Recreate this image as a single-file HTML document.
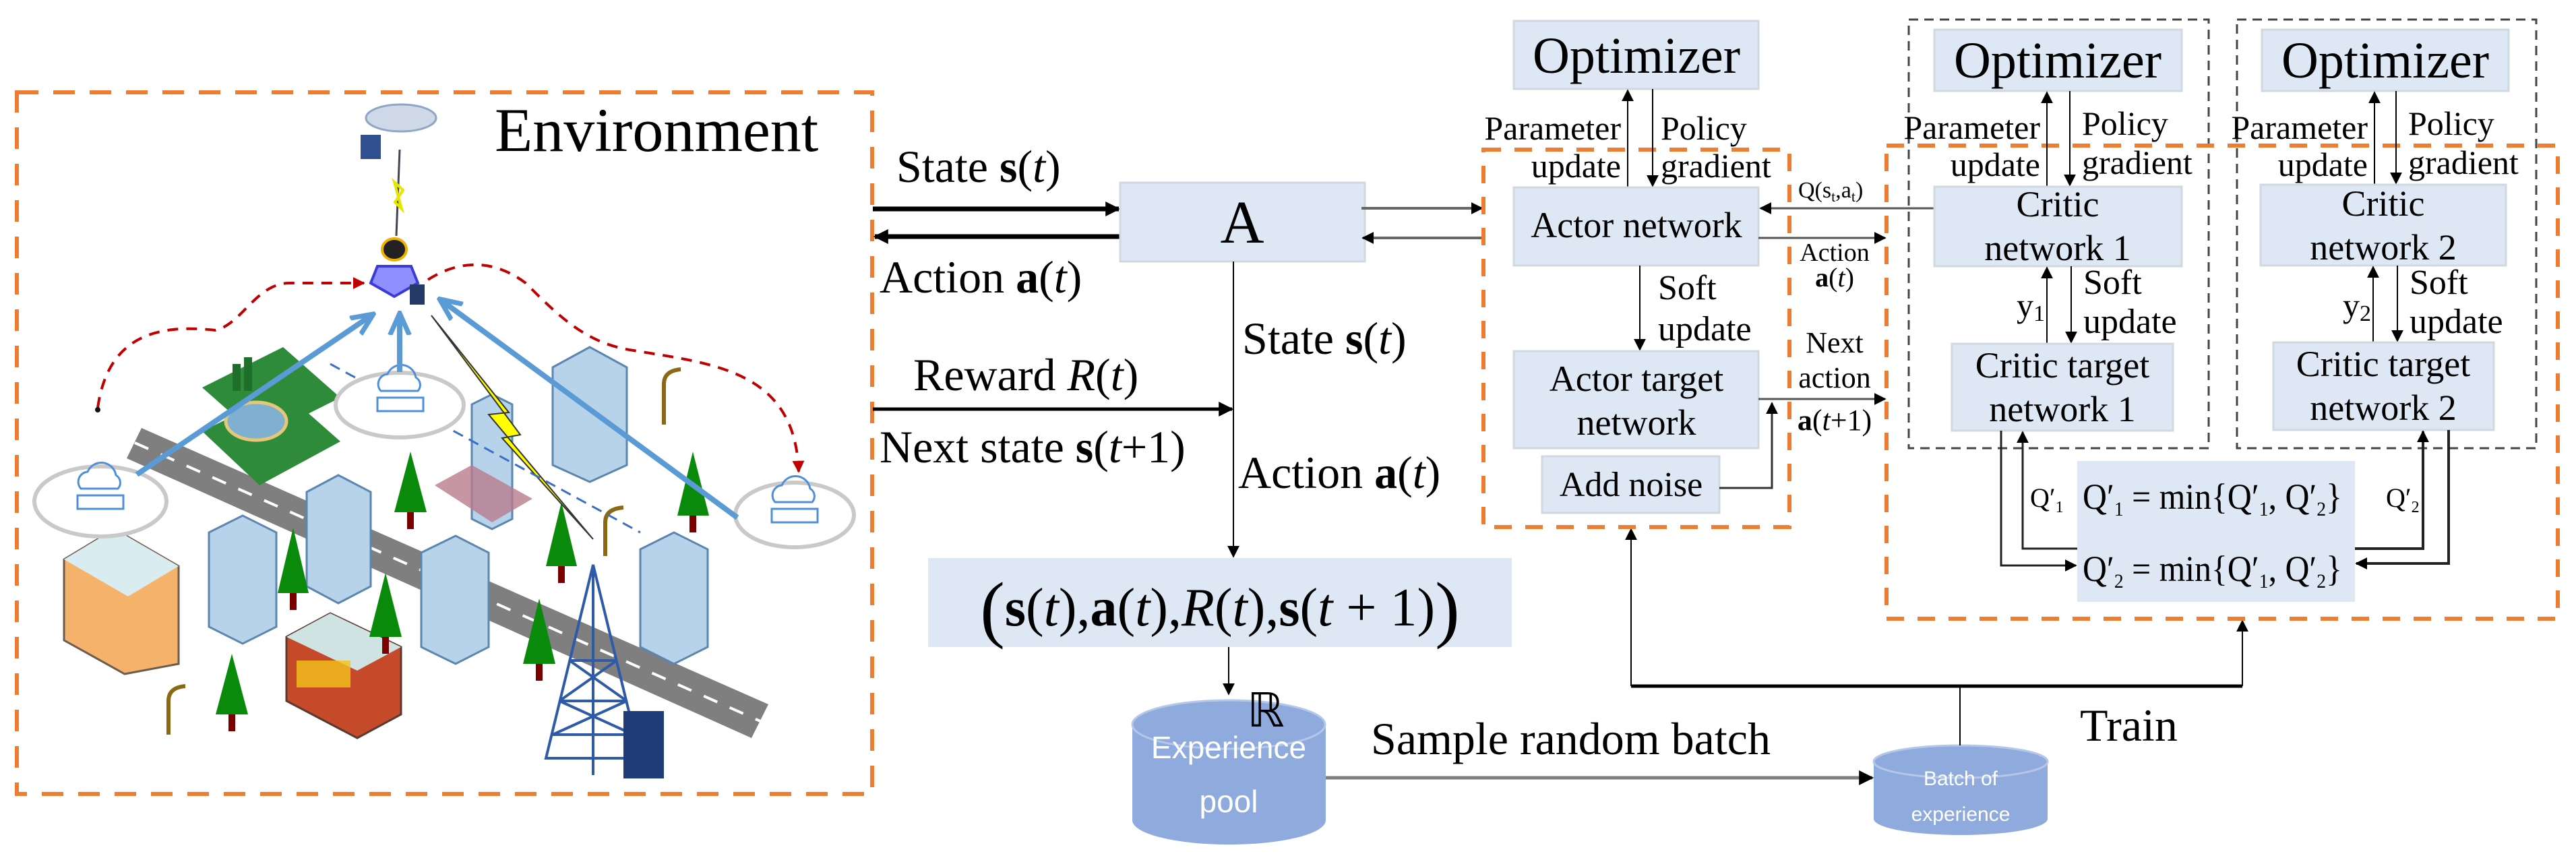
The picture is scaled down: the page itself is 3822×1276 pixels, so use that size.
<!DOCTYPE html>
<html><head><meta charset="utf-8"><style>
html,body{margin:0;padding:0;background:#fff;}
svg{display:block;}
text{font-family:"Liberation Serif",serif;fill:#000;}
</style></head><body>
<svg width="3822" height="1276" viewBox="0 0 3822 1276" xmlns="http://www.w3.org/2000/svg">
<defs>
<marker id="ahb" viewBox="0 0 10 10" refX="9" refY="5" markerWidth="22" markerHeight="22" orient="auto" markerUnits="userSpaceOnUse"><path d="M0,0 L10,5 L0,10 z" fill="#000"/></marker>
<marker id="ahs" viewBox="0 0 10 10" refX="9" refY="5" markerWidth="18" markerHeight="18" orient="auto" markerUnits="userSpaceOnUse"><path d="M0,0 L10,5 L0,10 z" fill="#000"/></marker>
<marker id="ahbl" viewBox="0 0 10 10" refX="7" refY="5" markerWidth="36" markerHeight="36" orient="auto" markerUnits="userSpaceOnUse"><path d="M0,1 L9,5 L0,9" fill="none" stroke="#5b9bd5" stroke-width="2"/></marker>
<marker id="ahr" viewBox="0 0 10 10" refX="9" refY="5" markerWidth="18" markerHeight="18" orient="auto" markerUnits="userSpaceOnUse"><path d="M0,0 L10,5 L0,10 z" fill="#c00000"/></marker>
</defs>

<!-- ================= ENVIRONMENT ================= -->
<rect x="25" y="137" width="1269" height="1041" fill="none" stroke="#ed7d31" stroke-width="6" stroke-dasharray="32 22"/>
<text x="734" y="224" font-size="92">Environment</text>
<polygon points="210,635 1140,1045 1115,1095 188,680" fill="#7f7f7f"/>
<line x1="200" y1="657" x2="1128" y2="1070" stroke="#fff" stroke-width="4" stroke-dasharray="22 20"/>
<polygon points="300,575 420,515 505,590 385,650" fill="#2e8b3a"/>
<polygon points="300,640 420,580 505,655 385,720" fill="#2e8b3a"/>
<ellipse cx="380" cy="625" rx="45" ry="28" fill="#7fb0d0" stroke="#e6c77a" stroke-width="5"/>
<rect x="345" y="540" width="12" height="40" fill="#1f6e2a"/><rect x="362" y="530" width="12" height="50" fill="#1f6e2a"/>
<ellipse cx="595" cy="175" rx="52" ry="20" fill="#cfd8e6" stroke="#8ea6c8" stroke-width="3"/>
<rect x="535" y="200" width="30" height="36" fill="#2f4f8f"/>
<line x1="593" y1="222" x2="588" y2="350" stroke="#445" stroke-width="3"/>
<polygon points="585,270 598,282 586,300 596,310" fill="none" stroke="#e6e600" stroke-width="4"/>
<ellipse cx="585" cy="370" rx="18" ry="16" fill="#222" stroke="#f0b000" stroke-width="4"/>
<polygon points="560,395 610,395 620,420 585,440 550,420" fill="#8f8fff" stroke="#3b3bd8" stroke-width="4"/>
<rect x="608" y="422" width="22" height="30" fill="#243a66"/>
<path d="M145,605 C160,500 230,480 320,490 C360,480 380,420 430,420 L540,420" fill="none" stroke="#c00000" stroke-width="4" stroke-dasharray="16 12" marker-end="url(#ahr)"/>
<path d="M635,415 C690,380 740,390 780,420 C830,470 870,510 940,520 C1060,540 1180,550 1185,700" fill="none" stroke="#c00000" stroke-width="4" stroke-dasharray="16 12" marker-end="url(#ahr)"/>
<circle cx="145" cy="608" r="4" fill="#111"/>
<g fill="#b7d3ea" stroke="#5b86b0" stroke-width="3">
<polygon points="820,545 875,515 930,545 930,690 875,715 820,690"/>
<polygon points="310,790 360,765 410,790 410,930 360,955 310,930"/>
<polygon points="455,730 502,705 550,730 550,870 502,895 455,870"/>
<polygon points="625,820 676,795 725,820 725,960 676,985 625,960"/>
<polygon points="950,815 1000,790 1050,815 1050,960 1000,985 950,960"/>
<polygon points="700,600 730,585 760,600 760,770 730,785 700,770"/>
</g>
<polygon points="645,720 700,690 790,740 730,775" fill="#b87c8c" opacity="0.8"/>
<polygon points="95,830 170,785 265,840 265,985 185,1000 95,950" fill="#f4b26a" stroke="#6b5c50" stroke-width="3"/>
<polygon points="95,830 170,785 265,840 190,885" fill="#d9ecef"/>
<polygon points="425,945 490,910 595,960 595,1060 530,1095 425,1040" fill="#c44a2a" stroke="#5a3a30" stroke-width="3"/>
<polygon points="425,945 490,910 595,960 530,995" fill="#cfe3e3"/>
<rect x="440" y="980" width="80" height="40" fill="#f2c21b" opacity="0.8"/>
<g fill="#0a8a0a">
<polygon points="609,670 585,760 633,760"/><polygon points="435,783 412,880 458,880"/><polygon points="572,850 548,945 596,945"/>
<polygon points="344,970 320,1060 368,1060"/><polygon points="800,888 776,985 824,985"/><polygon points="833,745 810,840 856,840"/><polygon points="1028,670 1005,765 1052,765"/>
</g>
<g fill="#7a0000">
<rect x="604" y="760" width="10" height="25"/><rect x="430" y="880" width="10" height="25"/><rect x="567" y="945" width="10" height="25"/>
<rect x="339" y="1060" width="10" height="25"/><rect x="795" y="985" width="10" height="25"/><rect x="828" y="840" width="10" height="25"/><rect x="1023" y="765" width="10" height="25"/>
</g>
<g fill="none" stroke="#8b6914" stroke-width="6">
<path d="M985,630 L985,570 Q985,550 1010,548"/><path d="M898,825 L898,775 Q898,755 925,753"/><path d="M250,1090 L250,1040 Q250,1020 275,1018"/>
</g>
<g stroke="#2f5aa8" stroke-width="4" fill="none">
<polygon points="880,838 810,1125 950,1125"/>
<line x1="880" y1="838" x2="880" y2="1150"/>
<path d="M845,980 L915,980 M830,1040 L930,1040 M820,1090 L940,1090 M845,980 L930,1040 M915,980 L830,1040 M830,1040 L940,1090 M930,1040 L820,1090"/>
</g>
<rect x="925" y="1055" width="60" height="100" fill="#1f3b78"/>
<polygon points="640,468 755,612 725,615 880,800 745,650 772,645" fill="#ffff00" stroke="#333" stroke-width="2"/>
<line x1="490" y1="540" x2="950" y2="790" stroke="#3a6fc8" stroke-width="3" stroke-dasharray="16 10"/>
<g fill="#fff" stroke="#c9c9c9" stroke-width="6">
<ellipse cx="149" cy="744" rx="98" ry="52"/><ellipse cx="593" cy="601" rx="95" ry="48"/><ellipse cx="1179" cy="764" rx="88" ry="48"/>
</g>
<g fill="none" stroke="#4f8fd8" stroke-width="3">
<path d="M120,725 a15,15 0 0,1 10,-25 a22,22 0 0,1 42,5 a13,13 0 0,1 3,20 z"/><rect x="115" y="735" width="68" height="20"/>
<path d="M565,580 a15,15 0 0,1 10,-25 a22,22 0 0,1 42,5 a13,13 0 0,1 3,20 z"/><rect x="560" y="590" width="68" height="20"/>
<path d="M1150,745 a15,15 0 0,1 10,-25 a22,22 0 0,1 42,5 a13,13 0 0,1 3,20 z"/><rect x="1145" y="755" width="68" height="20"/>
</g>
<g stroke="#5b9bd5" stroke-width="8" fill="none" marker-end="url(#ahbl)">
<line x1="203" y1="704" x2="548" y2="470"/>
<line x1="593" y1="552" x2="593" y2="472"/>
<line x1="1094" y1="768" x2="658" y2="448"/>
</g>

<!-- ================= MIDDLE ================= -->
<line x1="1295" y1="310" x2="1660" y2="310" stroke="#000" stroke-width="7" marker-end="url(#ahb)"/>
<line x1="1662" y1="351" x2="1298" y2="351" stroke="#000" stroke-width="7" marker-end="url(#ahb)"/>
<text x="1330" y="270" font-size="68">State <tspan font-weight="bold">s</tspan>(<tspan font-style="italic">t</tspan>)</text>
<text x="1305" y="434" font-size="68">Action <tspan font-weight="bold">a</tspan>(<tspan font-style="italic">t</tspan>)</text>

<rect x="1662" y="271" width="363" height="117" fill="#dde8f4" stroke="#d0d8e0" stroke-width="3"/>
<text x="1843" y="360" font-size="90" text-anchor="middle">A</text>

<line x1="2020" y1="309" x2="2199" y2="309" stroke="#666" stroke-width="4" marker-end="url(#ahs)"/>
<line x1="2201" y1="353" x2="2022" y2="353" stroke="#666" stroke-width="4" marker-end="url(#ahs)"/>

<line x1="1830" y1="388" x2="1830" y2="826" stroke="#000" stroke-width="2" marker-end="url(#ahs)"/>
<line x1="1295" y1="607" x2="1828" y2="607" stroke="#000" stroke-width="5" marker-end="url(#ahb)"/>
<text x="1355" y="579" font-size="68">Reward <tspan font-style="italic">R</tspan>(<tspan font-style="italic">t</tspan>)</text>
<text x="1305" y="686" font-size="68">Next state <tspan font-weight="bold">s</tspan>(<tspan font-style="italic">t</tspan>+1)</text>
<text x="1843" y="525" font-size="68">State <tspan font-weight="bold">s</tspan>(<tspan font-style="italic">t</tspan>)</text>
<text x="1837" y="724" font-size="68">Action <tspan font-weight="bold">a</tspan>(<tspan font-style="italic">t</tspan>)</text>

<rect x="1377" y="828" width="866" height="132" fill="#dde8f4"/>
<text x="1810" y="928" font-size="80" text-anchor="middle"><tspan font-size="110" dy="12">(</tspan><tspan dy="-12" font-weight="bold">s</tspan>(<tspan font-style="italic">t</tspan>),<tspan font-weight="bold">a</tspan>(<tspan font-style="italic">t</tspan>),<tspan font-style="italic">R</tspan>(<tspan font-style="italic">t</tspan>),<tspan font-weight="bold">s</tspan>(<tspan font-style="italic">t</tspan> + 1)<tspan font-size="110" dy="12">)</tspan></text>
<line x1="1823" y1="960" x2="1823" y2="1030" stroke="#000" stroke-width="2" marker-end="url(#ahs)"/>

<path d="M1680,1075 L1680,1217 A143,36 0 0,0 1967,1217 L1967,1075 A143,36 0 0,0 1680,1075 z" fill="#8faadc"/>
<ellipse cx="1823" cy="1075" rx="143" ry="36" fill="none" stroke="#b5c7e8" stroke-width="3"/>
<text x="1878" y="1078" font-size="70" text-anchor="middle" font-family="DejaVu Serif">ℝ</text>
<text x="1823" y="1125" font-size="46" text-anchor="middle" style="fill:#fff;font-family:'Liberation Sans',sans-serif">Experience</text>
<text x="1823" y="1205" font-size="46" text-anchor="middle" style="fill:#fff;font-family:'Liberation Sans',sans-serif">pool</text>

<line x1="1967" y1="1154" x2="2778" y2="1154" stroke="#7f7f7f" stroke-width="5" marker-end="url(#ahb)"/>
<text x="2034" y="1119" font-size="68">Sample random batch</text>

<path d="M2780,1130 L2780,1215 A129,24 0 0,0 3038,1215 L3038,1130 A129,24 0 0,0 2780,1130 z" fill="#8faadc"/>
<ellipse cx="2909" cy="1130" rx="129" ry="24" fill="none" stroke="#b5c7e8" stroke-width="3"/>
<text x="2909" y="1165" font-size="30" text-anchor="middle" style="fill:#fff;font-family:'Liberation Sans',sans-serif">Batch of</text>
<text x="2909" y="1218" font-size="30" text-anchor="middle" style="fill:#fff;font-family:'Liberation Sans',sans-serif">experience</text>

<line x1="2908" y1="1106" x2="2908" y2="1018" stroke="#000" stroke-width="2"/>
<line x1="2420" y1="1018" x2="3327" y2="1018" stroke="#000" stroke-width="5"/>
<line x1="2420" y1="1018" x2="2420" y2="785" stroke="#000" stroke-width="2" marker-end="url(#ahs)"/>
<line x1="3327" y1="1018" x2="3327" y2="921" stroke="#000" stroke-width="2" marker-end="url(#ahs)"/>
<text x="3086" y="1099" font-size="68">Train</text>

<!-- ================= ACTOR ================= -->
<rect x="2201" y="222" width="454" height="560" fill="none" stroke="#ed7d31" stroke-width="6" stroke-dasharray="26 20"/>
<rect x="2246" y="31" width="363" height="101" fill="#dde8f4" stroke="#d0d8e0" stroke-width="3"/>
<text x="2428" y="108" font-size="76" text-anchor="middle">Optimizer</text>
<line x1="2415" y1="278" x2="2415" y2="134" stroke="#000" stroke-width="2" marker-end="url(#ahs)"/>
<line x1="2452" y1="132" x2="2452" y2="276" stroke="#000" stroke-width="2" marker-end="url(#ahs)"/>
<text x="2405" y="207" font-size="50" text-anchor="end">Parameter</text>
<text x="2405" y="263" font-size="50" text-anchor="end">update</text>
<text x="2464" y="207" font-size="50">Policy</text>
<text x="2464" y="263" font-size="50">gradient</text>

<rect x="2246" y="278" width="363" height="116" fill="#dde8f4" stroke="#d0d8e0" stroke-width="3"/>
<text x="2428" y="352" font-size="54" text-anchor="middle">Actor network</text>
<line x1="2433" y1="394" x2="2433" y2="519" stroke="#000" stroke-width="2" marker-end="url(#ahs)"/>
<text x="2460" y="444" font-size="52">Soft</text>
<text x="2460" y="505" font-size="52">update</text>

<rect x="2246" y="521" width="363" height="144" fill="#dde8f4" stroke="#d0d8e0" stroke-width="3"/>
<text x="2428" y="580" font-size="54" text-anchor="middle">Actor target</text>
<text x="2428" y="645" font-size="54" text-anchor="middle">network</text>
<rect x="2288" y="677" width="263" height="84" fill="#dde8f4" stroke="#d0d8e0" stroke-width="3"/>
<text x="2420" y="736" font-size="52" text-anchor="middle">Add noise</text>
<polyline points="2551,724 2629,724 2629,598" fill="none" stroke="#333" stroke-width="3" marker-end="url(#ahs)"/>

<line x1="2870" y1="309" x2="2612" y2="309" stroke="#555" stroke-width="3" marker-end="url(#ahs)"/>
<text x="2668" y="293" font-size="34">Q(s<tspan font-size="22" dy="6">t</tspan><tspan dy="-6">,a</tspan><tspan font-size="22" dy="6">t</tspan><tspan dy="-6">)</tspan></text>
<line x1="2609" y1="353" x2="2797" y2="353" stroke="#555" stroke-width="3" marker-end="url(#ahs)"/>
<text x="2722" y="387" font-size="38" text-anchor="middle" font-family="Liberation Sans">Action</text>
<text x="2722" y="425" font-size="40" text-anchor="middle"><tspan font-weight="bold">a</tspan>(<tspan font-style="italic">t</tspan>)</text>
<line x1="2609" y1="592" x2="2797" y2="592" stroke="#555" stroke-width="3" marker-end="url(#ahs)"/>
<text x="2722" y="523" font-size="44" text-anchor="middle">Next</text>
<text x="2722" y="575" font-size="44" text-anchor="middle">action</text>
<text x="2722" y="638" font-size="44" text-anchor="middle"><tspan font-weight="bold">a</tspan>(<tspan font-style="italic">t</tspan>+1)</text>

<!-- ================= CRITICS ================= -->
<rect x="2832" y="29" width="445" height="636" fill="none" stroke="#444" stroke-width="3" stroke-dasharray="14 9"/>
<rect x="3319" y="29" width="444" height="636" fill="none" stroke="#444" stroke-width="3" stroke-dasharray="14 9"/>
<rect x="2799" y="216" width="996" height="702" fill="none" stroke="#ed7d31" stroke-width="6" stroke-dasharray="26 20"/>

<rect x="2870" y="44" width="367" height="91" fill="#dde8f4" stroke="#d0d8e0" stroke-width="3"/>
<text x="3053" y="115" font-size="76" text-anchor="middle">Optimizer</text>
<rect x="3356" y="44" width="366" height="91" fill="#dde8f4" stroke="#d0d8e0" stroke-width="3"/>
<text x="3539" y="115" font-size="76" text-anchor="middle">Optimizer</text>

<line x1="3037" y1="277" x2="3037" y2="137" stroke="#000" stroke-width="2" marker-end="url(#ahs)"/>
<line x1="3071" y1="135" x2="3071" y2="275" stroke="#000" stroke-width="2" marker-end="url(#ahs)"/>
<line x1="3523" y1="274" x2="3523" y2="137" stroke="#000" stroke-width="2" marker-end="url(#ahs)"/>
<line x1="3555" y1="135" x2="3555" y2="272" stroke="#000" stroke-width="2" marker-end="url(#ahs)"/>
<text x="3027" y="206" font-size="50" text-anchor="end">Parameter</text>
<text x="3027" y="261" font-size="50" text-anchor="end">update</text>
<text x="3089" y="200" font-size="50">Policy</text>
<text x="3089" y="258" font-size="50">gradient</text>
<text x="3513" y="206" font-size="50" text-anchor="end">Parameter</text>
<text x="3513" y="261" font-size="50" text-anchor="end">update</text>
<text x="3573" y="200" font-size="50">Policy</text>
<text x="3573" y="258" font-size="50">gradient</text>

<rect x="2870" y="277" width="367" height="118" fill="#dde8f4" stroke="#d0d8e0" stroke-width="3"/>
<text x="3053" y="321" font-size="54" text-anchor="middle">Critic</text>
<text x="3053" y="386" font-size="54" text-anchor="middle">network 1</text>
<rect x="3354" y="274" width="364" height="120" fill="#dde8f4" stroke="#d0d8e0" stroke-width="3"/>
<text x="3536" y="320" font-size="54" text-anchor="middle">Critic</text>
<text x="3536" y="385" font-size="54" text-anchor="middle">network 2</text>

<line x1="3037" y1="510" x2="3037" y2="397" stroke="#000" stroke-width="2" marker-end="url(#ahs)"/>
<line x1="3073" y1="395" x2="3073" y2="508" stroke="#000" stroke-width="2" marker-end="url(#ahs)"/>
<line x1="3521" y1="508" x2="3521" y2="396" stroke="#000" stroke-width="2" marker-end="url(#ahs)"/>
<line x1="3557" y1="394" x2="3557" y2="506" stroke="#000" stroke-width="2" marker-end="url(#ahs)"/>
<text x="2992" y="470" font-size="50">y<tspan font-size="34" dy="6">1</tspan></text>
<text x="3091" y="436" font-size="52">Soft</text>
<text x="3091" y="494" font-size="52">update</text>
<text x="3476" y="470" font-size="50">y<tspan font-size="34" dy="6">2</tspan></text>
<text x="3575" y="436" font-size="52">Soft</text>
<text x="3575" y="494" font-size="52">update</text>

<rect x="2896" y="510" width="328" height="129" fill="#dde8f4" stroke="#d0d8e0" stroke-width="3"/>
<text x="3060" y="560" font-size="54" text-anchor="middle">Critic target</text>
<text x="3060" y="625" font-size="54" text-anchor="middle">network 1</text>
<rect x="3373" y="508" width="327" height="130" fill="#dde8f4" stroke="#d0d8e0" stroke-width="3"/>
<text x="3536" y="558" font-size="54" text-anchor="middle">Critic target</text>
<text x="3536" y="623" font-size="54" text-anchor="middle">network 2</text>

<rect x="3082" y="684" width="412" height="209" fill="#dde8f4"/>
<text x="3090" y="755" font-size="54" textLength="385" lengthAdjust="spacingAndGlyphs">Q′<tspan font-size="30" dy="10">1</tspan><tspan dy="-10"> = min{Q′</tspan><tspan font-size="30" dy="10">1</tspan><tspan dy="-10">, Q′</tspan><tspan font-size="30" dy="10">2</tspan><tspan dy="-10">}</tspan></text>
<text x="3090" y="862" font-size="54" textLength="385" lengthAdjust="spacingAndGlyphs">Q′<tspan font-size="30" dy="10">2</tspan><tspan dy="-10"> = min{Q′</tspan><tspan font-size="30" dy="10">1</tspan><tspan dy="-10">, Q′</tspan><tspan font-size="30" dy="10">2</tspan><tspan dy="-10">}</tspan></text>

<polyline points="2969,639 2969,839 3080,839" fill="none" stroke="#222" stroke-width="3" marker-end="url(#ahs)"/>
<polyline points="3082,814 3001,814 3001,641" fill="none" stroke="#222" stroke-width="3" marker-end="url(#ahs)"/>
<polyline points="3494,814 3595,814 3595,640" fill="none" stroke="#222" stroke-width="4" marker-end="url(#ahs)"/>
<polyline points="3633,638 3633,836 3496,836" fill="none" stroke="#222" stroke-width="4" marker-end="url(#ahs)"/>
<text x="3012" y="752" font-size="40">Q′<tspan font-size="24" dy="8">1</tspan></text>
<text x="3540" y="752" font-size="40">Q′<tspan font-size="24" dy="8">2</tspan></text>
</svg>
</body></html>
